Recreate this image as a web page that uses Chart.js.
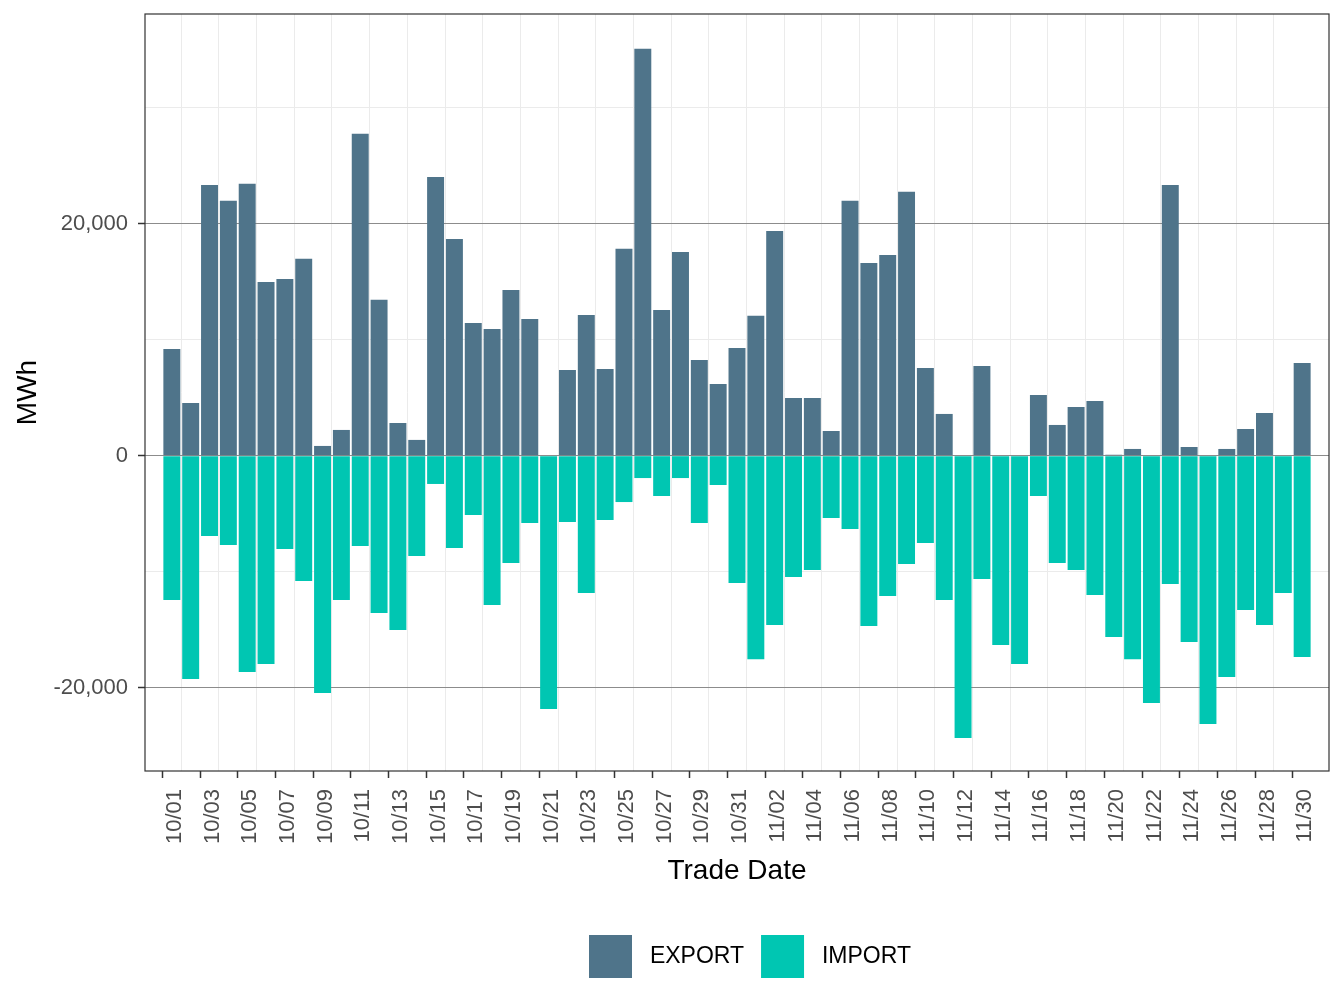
<!DOCTYPE html>
<html>
<head>
<meta charset="utf-8">
<script src="https://cdn.jsdelivr.net/npm/chart.js@4.4.1/dist/chart.umd.min.js"></script>
<style>
  html, body { margin: 0; padding: 0; background: #fff; }
  #wrap { width: 1344px; height: 1008px; position: relative; }
</style>
</head>
<body>
<div id="wrap"><canvas id="chart"></canvas></div>
<script>
const dates = [
  "10/01", "10/02", "10/03", "10/04", "10/05", "10/06", "10/07", "10/08", "10/09", "10/10",
  "10/11", "10/12", "10/13", "10/14", "10/15", "10/16", "10/17", "10/18", "10/19", "10/20",
  "10/21", "10/22", "10/23", "10/24", "10/25", "10/26", "10/27", "10/28", "10/29", "10/30",
  "10/31", "11/01", "11/02", "11/03", "11/04", "11/05", "11/06", "11/07", "11/08", "11/09",
  "11/10", "11/11", "11/12", "11/13", "11/14", "11/15", "11/16", "11/17", "11/18", "11/19",
  "11/20", "11/21", "11/22", "11/23", "11/24", "11/25", "11/26", "11/27", "11/28", "11/29",
  "11/30"
];

const exportVals = [
  9200, 4550, 23360, 21980, 23450, 14990, 15250, 16980, 840, 2220,
  27760, 13440, 2820, 1360, 24050, 18700, 11450, 10930, 14300, 11800,
  0, 7400, 12140, 7480, 17840, 35100, 12570, 17580, 8260, 6190,
  9290, 12060, 19390, 4980, 4980, 2130, 21980, 16630, 17320, 22760,
  7570, 3600, 0, 7740, 0, 0, 5240, 2650, 4200, 4720,
  80, 580, 0, 23360, 750, 0, 580, 2300, 3680, 0,
  8000
];

const importVals = [
  -12450, -19270, -6930, -7710, -18670, -17980, -8050, -10810, -20480, -12450,
  -7790, -13580, -15040, -8660, -2440, -7970, -5120, -12880, -9260, -5810,
  -21860, -5720, -11850, -5550, -4000, -1930, -3480, -1930, -5810, -2530,
  -10990, -17550, -14610, -10470, -9870, -5380, -6330, -14700, -12110, -9350,
  -7540, -12450, -24360, -10640, -16340, -17980, -3480, -9260, -9870, -12020,
  -15650, -17550, -21340, -11070, -16080, -23150, -19100, -13320, -14610, -11850,
  -17370
];

const yTicks = [-20000, -10000, 0, 10000, 20000, 30000];

const exportColor = "#4f748a";
const importColor = "#00c6b2";

Chart.defaults.font.family = "'Liberation Sans', Arial, sans-serif";

// ggplot-style panel border
const panelBorder = {
  id: "panelBorder",
  afterDatasetsDraw(chart) {
    const { ctx, chartArea: a } = chart;
    ctx.save();
    ctx.strokeStyle = "#333333";
    ctx.lineWidth = 1.2;
    ctx.strokeRect(a.left, a.top, a.right - a.left, a.bottom - a.top);
    ctx.restore();
  }
};

// move the legend row so it starts where the reference one does
const legendShift = {
  id: "legendShift",
  afterLayout(chart) {
    const lg = chart.legend;
    if (!lg || !lg.lineWidths) return;
    const pad = lg.options.labels.padding;
    const start = (lg.left + pad + lg.right - lg.lineWidths[0]) / 2;
    const d = 589 - start;
    lg.left += d;
    lg.right += d;
  }
};

new Chart(document.getElementById("chart"), {
  type: "bar",
  data: {
    datasets: [
      {
        label: "EXPORT",
        data: exportVals.map((v, i) => ({ x: i, y: v })),
        backgroundColor: exportColor,
        borderWidth: 0,
        barPercentage: 0.9,
        categoryPercentage: 1
      },
      {
        label: "IMPORT",
        data: importVals.map((v, i) => ({ x: i, y: v })),
        backgroundColor: importColor,
        borderWidth: 0,
        barPercentage: 0.9,
        categoryPercentage: 1
      }
    ]
  },
  options: {
    responsive: true,
    maintainAspectRatio: false,
    animation: false,
    layout: { padding: { left: 0, top: 14, right: 15, bottom: 20 } },
    plugins: {
      tooltip: { enabled: false },
      legend: {
        position: "bottom",
        labels: {
          boxWidth: 43,
          boxHeight: 43,
          padding: 17,
          color: "#000000",
          font: { size: 23 },
          generateLabels: chart =>
            Chart.defaults.plugins.legend.labels.generateLabels(chart)
              .map(l => Object.assign(l, { text: " " + l.text }))
        }
      }
    },
    scales: {
      x: {
        type: "linear",
        stacked: true,
        min: -0.91,
        max: dates.length - 1 + 0.91,
        afterBuildTicks: s => { s.ticks = dates.map((d, i) => ({ value: i })); },
        afterFit: s => { s.height = 147; s.paddingLeft = 0; s.paddingRight = 0; },
        border: { display: false },
        grid: {
          color: c => (c.tick && c.tick.value % 2 === 1) ? "#ebebeb" : "rgba(0,0,0,0)",
          tickColor: c => (c.tick && c.tick.value % 2 === 0) ? "#333333" : "rgba(0,0,0,0)",
          tickLength: 7,
          tickWidth: 1.5,
          lineWidth: 1
        },
        ticks: {
          autoSkip: false,
          minRotation: 90,
          maxRotation: 90,
          padding: 11,
          labelOffset: 3,
          color: "#4d4d4d",
          font: { size: 22 },
          callback: v => (v % 2 === 0) ? dates[v] : ""
        },
        title: {
          display: true,
          text: "Trade Date",
          color: "#000000",
          font: { size: 28 },
          padding: { top: 0, bottom: 30 }
        }
      },
      y: {
        stacked: true,
        min: -27200,
        max: 38100,
        afterBuildTicks: s => { s.ticks = yTicks.map(v => ({ value: v })); },
        afterFit: s => { s.width = 145; s.paddingTop = 0; s.paddingBottom = 0; },
        border: { display: false },
        grid: {
          color: c => (c.tick && c.tick.value % 20000 === 0) ? "#8c8c8c" : "#ebebeb",
          tickColor: c => (c.tick && c.tick.value % 20000 === 0) ? "#333333" : "rgba(0,0,0,0)",
          tickLength: 7,
          tickWidth: 1.5,
          lineWidth: 1
        },
        ticks: {
          padding: 10,
          color: "#4d4d4d",
          font: { size: 22 },
          callback: v => (v % 20000 === 0) ? v.toLocaleString("en-US") : ""
        },
        title: {
          display: true,
          text: "MWh",
          color: "#000000",
          font: { size: 28 },
          padding: { top: 11, bottom: 0 }
        }
      }
    }
  },
  plugins: [panelBorder, legendShift]
});
</script>
</body>
</html>
